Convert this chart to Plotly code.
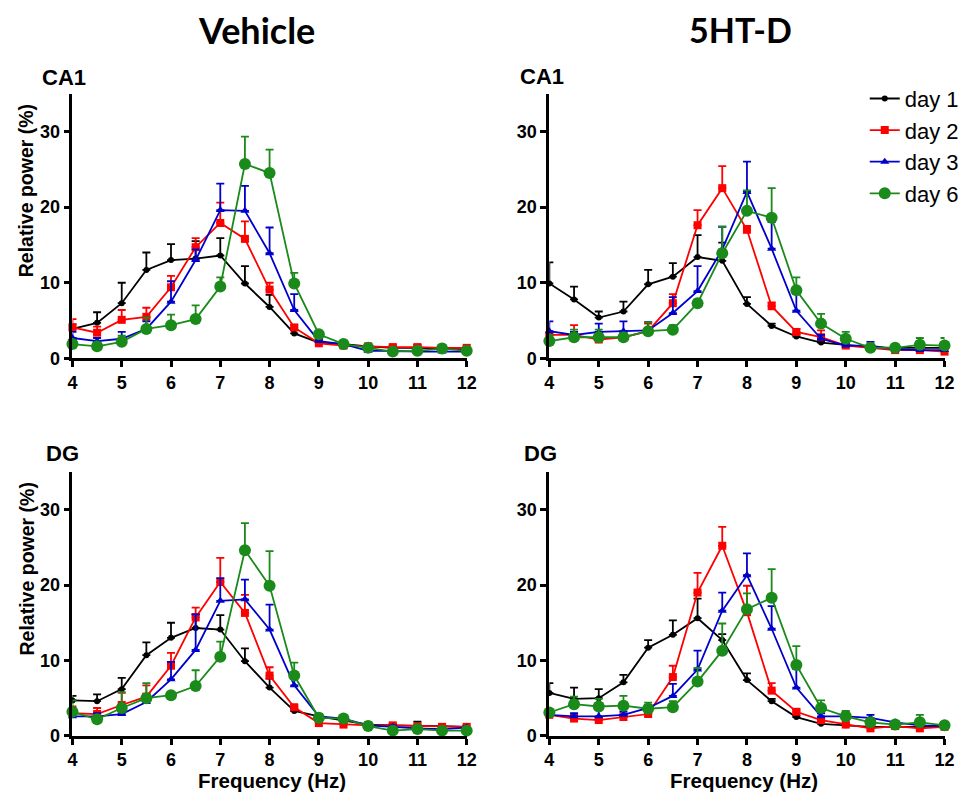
import plotly.graph_objects as go

freq = [4, 4.5, 5, 5.5, 6, 6.5, 7, 7.5, 8, 8.5, 9, 9.5, 10, 10.5, 11, 11.5, 12]
day_names = ["day 1", "day 2", "day 3", "day 6"]

# Vehicle CA1
veh_ca1_d1 = [3.9, 4.7, 7.3, 11.7, 13.0, 13.2, 13.6, 9.9, 6.8, 3.3, 2.1, 1.9, 1.6, 1.4, 1.4, 1.3, 1.2]
veh_ca1_d1_err = [0.6, 1.4, 2.7, 2.3, 2.1, 2.3, 2.3, 2.3, 1.6, 0.5, 0.3, 0.3, 0.3, 0.3, 0.4, 0.3, 0.3]
veh_ca1_d2 = [4.1, 3.4, 5.1, 5.5, 9.4, 14.7, 17.9, 15.8, 9.1, 4.1, 2.0, 1.7, 1.6, 1.5, 1.5, 1.4, 1.4]
veh_ca1_d2_err = [1.1, 0.8, 1.3, 1.2, 1.5, 1.2, 2.7, 2.3, 0.9, 0.3, 0.3, 0.2, 0.2, 0.2, 0.2, 0.2, 0.2]
veh_ca1_d3 = [2.7, 2.3, 2.6, 3.9, 7.5, 13.0, 19.6, 19.5, 13.9, 6.4, 2.3, 1.9, 1.0, 1.0, 0.9, 0.9, 0.9]
veh_ca1_d3_err = [0.8, 0.4, 0.9, 1.0, 2.7, 1.4, 3.5, 3.3, 3.4, 2.1, 0.3, 0.2, 0.3, 0.2, 0.2, 0.3, 0.2]
veh_ca1_d6 = [1.9, 1.6, 2.2, 3.9, 4.4, 5.2, 9.5, 25.7, 24.5, 9.9, 3.2, 1.9, 1.4, 0.9, 1.0, 1.3, 1.0]
veh_ca1_d6_err = [0.4, 0.3, 0.8, 1.5, 1.4, 1.8, 1.2, 3.6, 3.1, 1.4, 0.4, 0.3, 0.3, 0.2, 0.2, 0.2, 0.2]

# 5HT-D CA1
ht_ca1_d1 = [9.9, 7.8, 5.4, 6.2, 9.8, 10.8, 13.4, 12.9, 7.2, 4.3, 2.9, 2.1, 1.8, 1.5, 1.4, 1.4, 1.4]
ht_ca1_d1_err = [2.8, 1.7, 0.8, 1.3, 1.9, 1.8, 2.9, 2.4, 0.9, 0.3, 0.3, 0.2, 0.2, 0.2, 0.2, 0.2, 0.2]
ht_ca1_d2 = [3.1, 3.1, 2.5, 2.8, 3.6, 7.3, 17.6, 22.5, 17.0, 6.9, 3.5, 2.8, 1.7, 1.4, 1.1, 1.1, 0.9]
ht_ca1_d2_err = [0.4, 1.3, 0.8, 0.3, 1.0, 1.2, 2.0, 2.9, 0.5, 0.5, 0.4, 0.9, 0.3, 0.2, 0.2, 0.2, 0.2]
ht_ca1_d3 = [3.6, 3.1, 3.5, 3.6, 3.7, 6.0, 8.9, 14.4, 22.0, 14.5, 6.3, 2.6, 1.7, 1.7, 1.2, 1.1, 1.1]
ht_ca1_d3_err = [1.3, 0.4, 1.1, 1.3, 1.1, 2.1, 3.3, 3.0, 4.0, 3.5, 2.2, 0.5, 0.3, 0.5, 0.2, 0.2, 0.2]
ht_ca1_d6 = [2.3, 2.8, 2.8, 2.8, 3.6, 3.8, 7.3, 13.9, 19.5, 18.6, 9.0, 4.6, 2.6, 1.4, 1.4, 1.8, 1.7]
ht_ca1_d6_err = [0.8, 1.0, 1.0, 0.3, 1.2, 0.6, 0.5, 3.5, 2.7, 3.9, 1.7, 1.3, 0.9, 0.3, 0.3, 0.9, 1.0]

# Vehicle DG
veh_dg_d1 = [4.7, 4.6, 6.2, 10.7, 13.0, 14.3, 14.1, 9.9, 6.4, 3.3, 2.6, 2.0, 1.5, 1.4, 1.4, 1.3, 1.2]
veh_dg_d1_err = [0.6, 0.9, 1.5, 1.7, 2.0, 1.8, 1.9, 1.7, 1.2, 0.3, 0.3, 0.2, 0.2, 0.2, 0.5, 0.2, 0.2]
veh_dg_d2 = [3.0, 2.9, 4.1, 5.2, 9.3, 15.7, 20.4, 16.3, 8.0, 3.8, 1.7, 1.5, 1.4, 1.4, 1.3, 1.2, 1.2]
veh_dg_d2_err = [0.9, 0.8, 1.6, 1.5, 1.7, 1.3, 3.2, 2.4, 1.1, 0.3, 0.2, 0.2, 0.2, 0.2, 0.2, 0.2, 0.2]
veh_dg_d3 = [2.6, 2.6, 2.9, 4.5, 7.5, 11.4, 17.9, 18.1, 14.1, 6.7, 2.6, 2.3, 1.4, 1.2, 1.0, 0.9, 1.1]
veh_dg_d3_err = [0.4, 0.4, 0.8, 1.0, 2.3, 4.7, 3.0, 2.6, 3.3, 1.0, 0.3, 0.2, 0.2, 0.2, 0.2, 0.2, 0.2]
veh_dg_d6 = [3.2, 2.2, 3.7, 5.0, 5.4, 6.6, 10.5, 24.6, 19.9, 8.0, 2.4, 2.3, 1.3, 0.7, 0.9, 0.7, 0.7]
veh_dg_d6_err = [1.5, 0.3, 2.1, 2.0, 0.3, 2.1, 2.0, 3.6, 4.6, 1.7, 0.4, 0.2, 0.2, 0.2, 0.2, 0.2, 0.2]

# 5HT-D DG
ht_dg_d1 = [5.7, 4.9, 5.0, 7.1, 11.7, 13.4, 15.6, 12.7, 7.4, 4.6, 2.5, 1.6, 1.4, 1.2, 1.2, 1.2, 1.2]
ht_dg_d1_err = [1.3, 1.5, 1.2, 1.0, 1.0, 1.9, 2.6, 0.8, 0.9, 0.3, 0.2, 0.2, 0.2, 0.2, 0.2, 0.2, 0.2]
ht_dg_d2 = [2.8, 2.3, 2.1, 2.5, 2.9, 7.8, 19.0, 25.2, 16.4, 6.0, 3.2, 2.1, 1.5, 1.0, 1.3, 1.0, 1.2]
ht_dg_d2_err = [0.3, 0.5, 0.3, 0.3, 0.3, 1.5, 2.6, 2.5, 3.5, 1.0, 0.3, 0.2, 0.2, 0.2, 0.2, 0.2, 0.2]
ht_dg_d3 = [2.8, 2.6, 2.6, 2.8, 3.7, 5.3, 8.8, 16.6, 21.3, 14.2, 6.4, 2.6, 2.6, 2.4, 1.8, 1.4, 1.3]
ht_dg_d3_err = [0.3, 0.4, 0.9, 0.4, 0.4, 1.6, 2.5, 2.4, 2.9, 3.0, 2.5, 0.4, 0.5, 0.4, 0.2, 0.2, 0.2]
ht_dg_d6 = [3.1, 4.2, 3.9, 4.0, 3.6, 3.8, 7.2, 11.3, 16.8, 18.3, 9.4, 3.7, 2.6, 1.8, 1.5, 1.8, 1.4]
ht_dg_d6_err = [0.4, 1.0, 1.0, 1.3, 0.8, 0.8, 1.8, 3.6, 2.1, 3.8, 2.5, 1.0, 0.7, 0.3, 0.2, 1.0, 0.3]

panels = [
    ("x", "y", [veh_ca1_d1, veh_ca1_d2, veh_ca1_d3, veh_ca1_d6],
     [veh_ca1_d1_err, veh_ca1_d2_err, veh_ca1_d3_err, veh_ca1_d6_err], False),
    ("x2", "y2", [ht_ca1_d1, ht_ca1_d2, ht_ca1_d3, ht_ca1_d6],
     [ht_ca1_d1_err, ht_ca1_d2_err, ht_ca1_d3_err, ht_ca1_d6_err], True),
    ("x3", "y3", [veh_dg_d1, veh_dg_d2, veh_dg_d3, veh_dg_d6],
     [veh_dg_d1_err, veh_dg_d2_err, veh_dg_d3_err, veh_dg_d6_err], False),
    ("x4", "y4", [ht_dg_d1, ht_dg_d2, ht_dg_d3, ht_dg_d6],
     [ht_dg_d1_err, ht_dg_d2_err, ht_dg_d3_err, ht_dg_d6_err], False),
]

colors = ["#000000", "#ff0000", "#0000cc", "#1a8a1a"]
symbols = ["circle", "square", "triangle-up", "circle"]
msizes = [6, 8, 8, 12]

fig = go.Figure()
for xa, ya, series, errs, show in panels:
    for i in range(4):
        fig.add_trace(go.Scatter(
            x=freq, y=series[i], xaxis=xa, yaxis=ya,
            mode="lines+markers", name=day_names[i], showlegend=show,
            line=dict(color=colors[i], width=1.8),
            marker=dict(color=colors[i], symbol=symbols[i], size=msizes[i], line=dict(width=0)),
            error_y=dict(type="data", array=errs[i], arrayminus=[0] * len(freq), symmetric=False,
                         color=colors[i], thickness=1.8, width=4),
            cliponaxis=False,
        ))

tickfont = dict(family="Liberation Sans, Arial", size=18, color="black", weight="bold")
xcommon = dict(range=[4, 12], tickvals=list(range(4, 13)), showline=True, linewidth=2.8,
               linecolor="black", ticks="outside", ticklen=6, tickwidth=2.5, tickcolor="black",
               showgrid=False, zeroline=False, tickfont=tickfont)
ycommon = dict(range=[0, 35], tickvals=[0, 10, 20, 30], showline=True, linewidth=2.8,
               linecolor="black", ticks="outside", ticklen=6, tickwidth=2.5, tickcolor="black",
               showgrid=False, zeroline=False, tickfont=tickfont)

left = [0.071, 0.486]
right = [0.573, 0.989]
top = [0.548, 0.882]
bot = [0.072, 0.405]

fig.update_layout(
    width=965, height=803, margin=dict(l=0, r=0, t=0, b=0),
    paper_bgcolor="white", plot_bgcolor="white",
    xaxis=dict(domain=left, anchor="y", **xcommon),
    yaxis=dict(domain=top, anchor="x", **ycommon),
    xaxis2=dict(domain=right, anchor="y2", **xcommon),
    yaxis2=dict(domain=top, anchor="x2", **ycommon),
    xaxis3=dict(domain=left, anchor="y3", **xcommon),
    yaxis3=dict(domain=bot, anchor="x3", **ycommon),
    xaxis4=dict(domain=right, anchor="y4", **xcommon),
    yaxis4=dict(domain=bot, anchor="x4", **ycommon),
    legend=dict(x=0.905, y=0.902, xanchor="left", yanchor="top",
                font=dict(family="Liberation Sans, Arial", size=22, color="black"),
                bgcolor="rgba(0,0,0,0)", itemwidth=30),
    showlegend=True,
)

def ann(text, x, y, size, family="Liberation Sans, Arial", angle=0, xanchor="center"):
    fig.add_annotation(text=text, x=x / 965, y=1 - y / 803, xref="paper", yref="paper",
                       showarrow=False, textangle=angle, xanchor=xanchor, yanchor="middle",
                       font=dict(family=family, size=size, color="black"))

ann("<b>Vehicle</b>", 255, 30, 36, family="Lato, Open Sans")
ann("<b>5HT-D</b>", 747, 30, 34, family="Lato, Open Sans")
ann("<b>CA1</b>", 36, 78, 22, xanchor="left")
ann("<b>CA1</b>", 521, 77, 22, xanchor="left")
ann("<b>DG</b>", 40, 459, 22, xanchor="left")
ann("<b>DG</b>", 525, 459, 22, xanchor="left")
ann("<b>Relative power (%)</b>", 21, 193, 19.5, angle=-90)
ann("<b>Relative power (%)</b>", 22, 576, 19.5, angle=-90)
ann("<b>Frequency (Hz)</b>", 271, 790, 20.5)
ann("<b>Frequency (Hz)</b>", 751, 790, 20.5)

fig.write_html("out.html")
